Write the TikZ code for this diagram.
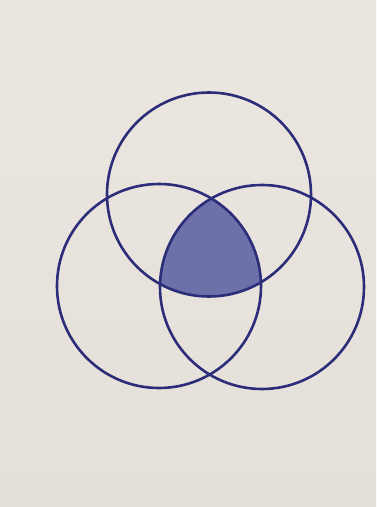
\documentclass[tikz,border=0pt]{standalone}
\definecolor{paper}{HTML}{ECE6E0}
\definecolor{paperlow}{HTML}{E5DFD9}
\definecolor{ink}{HTML}{2C2D78}
\definecolor{lobefill}{HTML}{6E70AA}
\begin{document}
\begin{tikzpicture}[x=1pt,y=-1pt,
  ring/.style={draw=ink,line width=2.6pt}]
\useasboundingbox (0,0) rectangle (376,507);
\shade[top color=paper,bottom color=paperlow] (0,0) rectangle (376,507);
\coordinate (T) at (209,194.5);
\coordinate (L) at (159,286);
\coordinate (R) at (262,287);
\def\rr{102}
\begin{scope}
  \clip (T) circle[radius=\rr];
  \clip (L) circle[radius=\rr];
  \fill[fill=lobefill] (R) circle[radius=\rr];
\end{scope}
\draw[ring] (T) circle[radius=\rr];
\draw[ring] (L) circle[radius=\rr];
\draw[ring] (R) circle[radius=\rr];
\end{tikzpicture}
\end{document}
